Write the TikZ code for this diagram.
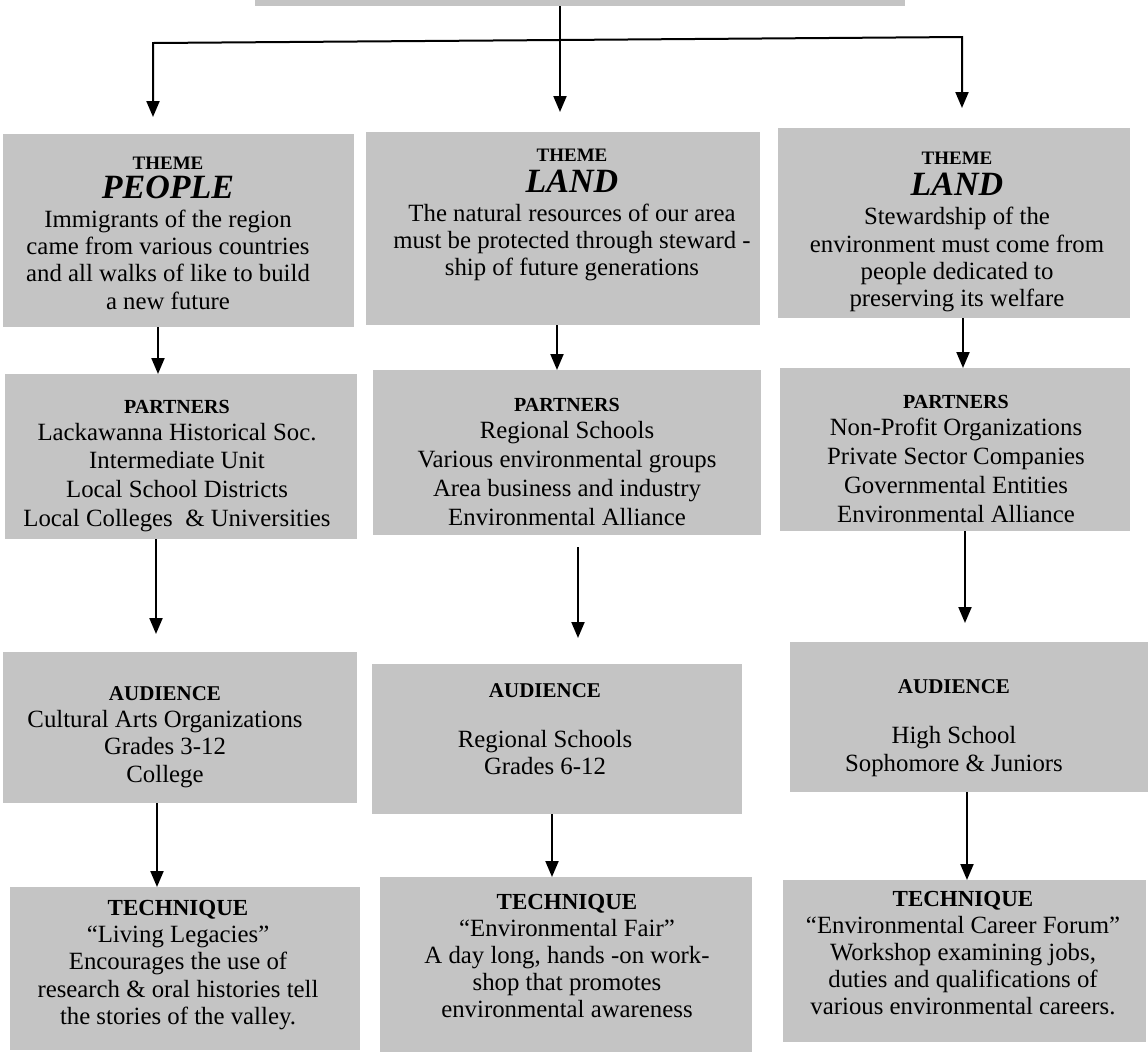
\documentclass[tikz,border=0pt]{standalone}
\usepackage{fontspec}
\setmainfont{Liberation Serif}
\usetikzlibrary{arrows.meta}
\definecolor{boxgray}{HTML}{C4C4C4}
\newcommand\hdTheme[1]{{\fontsize{9.5}{11}\selectfont\bfseries #1}}
\newcommand\hdPart[1]{{\fontsize{10}{11}\selectfont\bfseries #1}}
\newcommand\hdAud[1]{{\fontsize{10.5}{11}\selectfont\bfseries #1}}
\newcommand\hdTech[1]{{\fontsize{11.5}{12}\selectfont\bfseries #1}}
\newcommand\bigTheme[1]{{\fontsize{17}{17}\selectfont\bfseries\itshape #1}}
\begin{document}
\begin{tikzpicture}[x=0.5pt,y=-0.5pt,
  box/.style={fill=boxgray,draw=none,inner sep=0pt,outer sep=0pt},
  txt/.style={align=center,inner sep=0pt,font=\fontsize{12.4}{13.6}\selectfont},
  ptxt/.style={align=center,inner sep=0pt,font=\fontsize{12.4}{14.4}\selectfont},
  conn/.style={line width=1pt,black},
  arr/.style={conn,-{Triangle[length=8pt,width=6.5pt]}}]
\useasboundingbox (0,0) rectangle (1148,1056);
% top (cut-off) box
\node[box,minimum width=325pt,minimum height=5pt] (top) at (580,1) {};
% theme boxes
\node[box,minimum width=175.5pt,minimum height=96.5pt] (tL) at (178.5,230.5) {};
\node[box,minimum width=197pt,minimum height=96.5pt] (tM) at (563,228.5) {};
\node[box,minimum width=176pt,minimum height=95pt] (tR) at (954,223) {};
% partners boxes
\node[box,minimum width=176pt,minimum height=82.5pt] (pL) at (181,456.5) {};
\node[box,minimum width=194pt,minimum height=82.5pt] (pM) at (567,452.5) {};
\node[box,minimum width=175pt,minimum height=81.5pt] (pR) at (955,449.5) {};
% audience boxes
\node[box,minimum width=177pt,minimum height=75.5pt] (aL) at (180,727.5) {};
\node[box,minimum width=185pt,minimum height=75pt] (aM) at (557,739) {};
\node[box,minimum width=179pt,minimum height=75pt] (aR) at (969,717) {};
% technique boxes
\node[box,minimum width=175pt,minimum height=81.5pt] (qL) at (185,968.5) {};
\node[box,minimum width=186pt,minimum height=87.5pt] (qM) at (566,964.5) {};
\node[box,minimum width=181.5pt,minimum height=81pt] (qR) at (964.5,961) {};

% texts
\node[txt] (tLt) at (168,233) {\hdTheme{THEME}\\[1pt]\bigTheme{PEOPLE}\\[1pt]Immigrants of the region\\came from various countries\\and all walks of like to build\\a new future};
\node[txt] (tMt) at (572,215) {\hdTheme{THEME}\\[2pt]\bigTheme{LAND}\\[1pt]The natural resources of our area\\must be protected through steward -\\ship of future generations};
\node[txt] (tRt) at (957,232) {\hdTheme{THEME}\\[2pt]\bigTheme{LAND}\\[1pt]Stewardship of the\\environment must come from\\people dedicated to\\preserving its welfare};

\node[ptxt] (pLt) at (177,466) {\hdPart{PARTNERS}\\[-1pt]Lackawanna Historical Soc.\\Intermediate Unit\\Local School Districts\\Local Colleges \ \& Universities};
\node[ptxt] (pMt) at (567,462) {\hdPart{PARTNERS}\\[-1pt]Regional Schools\\Various environmental groups\\Area business and industry\\Environmental Alliance};
\node[ptxt] (pRt) at (956,459) {\hdPart{PARTNERS}\\[-1pt]Non-Profit Organizations\\Private Sector Companies\\Governmental Entities\\Environmental Alliance};

\node[txt] (aLt) at (165,737) {\hdAud{AUDIENCE}\\Cultural Arts Organizations\\Grades 3-12\\College};
\node[txt] (aMt) at (545,729) {\hdAud{AUDIENCE}\\[11.5pt]Regional Schools\\Grades 6-12};
\node[txt] (aRt) at (954,728) {\hdAud{AUDIENCE}\\[11.5pt]High School\\Sophomore \& Juniors};

\node[txt] (qLt) at (178,965) {\hdTech{TECHNIQUE}\\“Living Legacies”\\Encourages the use of\\research \& oral histories tell\\the stories of the valley.};
\node[txt] (qMt) at (567,956) {\hdTech{TECHNIQUE}\\“Environmental Fair”\\A day long, hands -on work-\\shop that promotes\\environmental awareness};
\node[txt] (qRt) at (963,953) {\hdTech{TECHNIQUE}\\“Environmental Career Forum”\\Workshop examining jobs,\\duties and qualifications of\\various environmental careers.};

% connectors
\coordinate (hl) at (153,43);
\coordinate (hr) at (962,37);
\coordinate (j) at (560,40);
\coordinate (xL1) at (158,0);
\coordinate (xM1) at (557,0);
\coordinate (xR1) at (963,0);
\coordinate (xL2) at (156,0);
\coordinate (xM2) at (578,0);
\coordinate (xR2) at (965,0);
\coordinate (xL3) at (157,0);
\coordinate (xM3) at (552,0);
\coordinate (xR3) at (967,0);

\draw[conn] (top.south -| j) -- (j);
\draw[arr,shorten >=8.5pt] (j) -- (hl) -- (tL.north -| hl);
\draw[arr,shorten >=10pt] (j) -- (tM.north -| j);
\draw[arr,shorten >=10pt] (j) -- (hr) -- (tR.north -| hr);

\draw[arr] (tL.south -| xL1) -- (pL.north -| xL1);
\draw[arr] (tM.south -| xM1) -- (pM.north -| xM1);
\draw[arr] (tR.south -| xR1) -- (pR.north -| xR1);

\draw[arr,shorten >=9pt] (pL.south -| xL2) -- (aL.north -| xL2);
\draw[arr,shorten <=6pt,shorten >=13pt] (pM.south -| xM2) -- (aM.north -| xM2);
\draw[arr,shorten >=9.5pt] (pR.south -| xR2) -- (aR.north -| xR2);

\draw[arr] (aL.south -| xL3) -- (qL.north -| xL3);
\draw[arr] (aM.south -| xM3) -- (qM.north -| xM3);
\draw[arr] (aR.south -| xR3) -- (qR.north -| xR3);
\end{tikzpicture}
\end{document}
